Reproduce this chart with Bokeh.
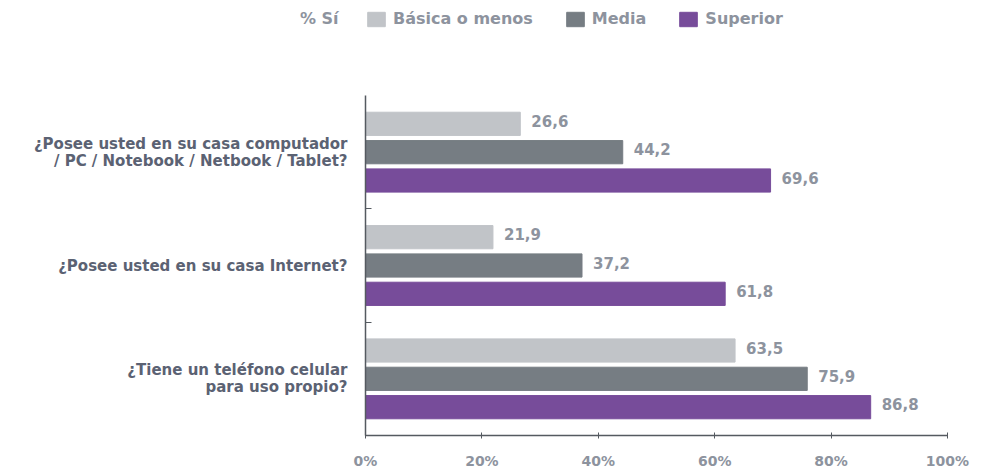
from bokeh.plotting import figure
from bokeh.layouts import column
from bokeh.models import FixedTicker, Legend, LegendItem, ColumnDataSource
from bokeh.core.properties import value
from bokeh.embed import file_html
from bokeh.resources import INLINE

questions = [
    "¿Posee usted en su casa computador\n/ PC / Notebook / Netbook / Tablet?",
    "¿Posee usted en su casa Internet?",
    "¿Tiene un teléfono celular\npara uso propio?",
]
series = ["Básica o menos", "Media", "Superior"]
basica = [26.6, 21.9, 63.5]
media = [44.2, 37.2, 75.9]
superior = [69.6, 61.8, 86.8]
x_ticks = [0, 20, 40, 60, 80, 100]
x_tick_labels = ["0%", "20%", "40%", "60%", "80%", "100%"]
legend_title = "% Sí"

colors = ["#c1c4c8", "#767d83", "#774c9a"]
FONT = "DejaVu Sans"
LABEL_COLOR = "#5b6273"
VALUE_COLOR = "#8d939e"

W = 982
TOP_H = 40
MAIN_H = 473 - TOP_H
LEFT = 365
RIGHT = 35

n = len(questions)
centers = [n - 0.5 - i for i in range(n)]
offsets = [0.25, 0.0, -0.25]
all_series = [basica, media, superior]

# ---- legend strip on top ----
top = figure(width=W, height=TOP_H, output_backend="svg", toolbar_location=None,
             x_range=(0, 100), y_range=(0, 1), x_axis_location=None,
             min_border_left=LEFT, min_border_right=RIGHT, min_border_top=0, min_border_bottom=0)
top.outline_line_color = None
top.xgrid.visible = False
top.ygrid.visible = False
# the legend title "% Sí" sits to the left of the legend, as the only label of this strip's axis
title_pos = 0.54
top.yaxis.ticker = FixedTicker(ticks=[title_pos])
top.yaxis.major_label_overrides = {title_pos: legend_title}
top.yaxis.axis_line_color = None
top.yaxis.major_tick_line_color = None
top.yaxis.minor_tick_line_color = None
top.yaxis.major_tick_in = 0
top.yaxis.major_tick_out = 0
top.yaxis.major_label_standoff = 27
top.yaxis.major_label_text_font = FONT
top.yaxis.major_label_text_font_style = "bold"
top.yaxis.major_label_text_font_size = "16px"
top.yaxis.major_label_text_color = VALUE_COLOR

# legend proxies: same series, kept outside this strip's visible range (only their legend swatch shows)
legend_renderers = []
for vals, c in zip(all_series, colors):
    src = ColumnDataSource(dict(y=[-1.0] * len(vals), right=vals))
    legend_renderers.append(top.hbar(y="y", right="right", left=0, height=0.1, source=src,
                                     fill_color=c, line_color=c))
legend = Legend(items=[LegendItem(label=s, renderers=[r], index=0)
                       for s, r in zip(series, legend_renderers)],
                orientation="horizontal", location=(0, 12))
legend.border_line_color = None
legend.background_fill_alpha = 0
legend.padding = 0
legend.margin = 0
legend.spacing = 31
legend.label_standoff = 6
legend.glyph_width = 22
legend.glyph_height = 18
legend.label_height = 18
legend.label_text_font = FONT
legend.label_text_font_style = "bold"
legend.label_text_font_size = "16px"
legend.label_text_color = VALUE_COLOR
top.add_layout(legend, "center")

# ---- main chart ----
p = figure(width=W, height=MAIN_H, output_backend="svg", toolbar_location=None,
           x_range=(0, 100), y_range=(0, n),
           min_border_left=LEFT, min_border_top=95 - TOP_H, min_border_right=RIGHT, min_border_bottom=38)
p.outline_line_color = None
p.xgrid.visible = False
p.ygrid.visible = False

for vals, col, off in zip(all_series, colors, offsets):
    ys = [c + off for c in centers]
    src = ColumnDataSource(dict(y=ys, right=vals,
                                txt=[f"{v:.1f}".replace(".", ",") for v in vals]))
    p.hbar(y="y", right="right", left=0, height=0.205, source=src,
           fill_color=col, line_color=col)
    p.text(x="right", y="y", text="txt", source=src, x_offset=11, y_offset=-3,
           text_baseline="middle", text_align="left", text_color=VALUE_COLOR,
           text_font=value(FONT), text_font_style="bold", text_font_size="15px")

# x axis
p.xaxis.ticker = FixedTicker(ticks=x_ticks)
p.xaxis.major_label_overrides = {t: l for t, l in zip(x_ticks, x_tick_labels)}
p.xaxis.axis_line_color = "#555a60"
p.xaxis.axis_line_width = 1.5
p.xaxis.major_tick_line_color = "#555a60"
p.xaxis.major_tick_in = 3
p.xaxis.major_tick_out = 3
p.xaxis.minor_tick_line_color = None
p.xaxis.major_label_standoff = 14
p.xaxis.major_label_text_font = FONT
p.xaxis.major_label_text_font_style = "bold"
p.xaxis.major_label_text_font_size = "14px"
p.xaxis.major_label_text_color = VALUE_COLOR

# y axis
p.yaxis.ticker = FixedTicker(ticks=centers, minor_ticks=[float(i) for i in range(1, n)])
p.yaxis.major_label_overrides = {c: q for c, q in zip(centers, questions)}
p.yaxis.axis_line_color = "#555a60"
p.yaxis.axis_line_width = 1.5
p.yaxis.major_tick_line_color = None
p.yaxis.major_tick_in = 0
p.yaxis.major_tick_out = 0
p.yaxis.minor_tick_line_color = "#555a60"
p.yaxis.minor_tick_in = 6
p.yaxis.minor_tick_out = 0
p.yaxis.major_label_standoff = 18
p.yaxis.major_label_text_font = FONT
p.yaxis.major_label_text_font_style = "bold"
p.yaxis.major_label_text_font_size = "15px"
p.yaxis.major_label_text_line_height = 0.93
p.yaxis.major_label_text_color = LABEL_COLOR

layout = column(top, p, spacing=0)
open("out.html", "w").write(file_html(layout, INLINE))
